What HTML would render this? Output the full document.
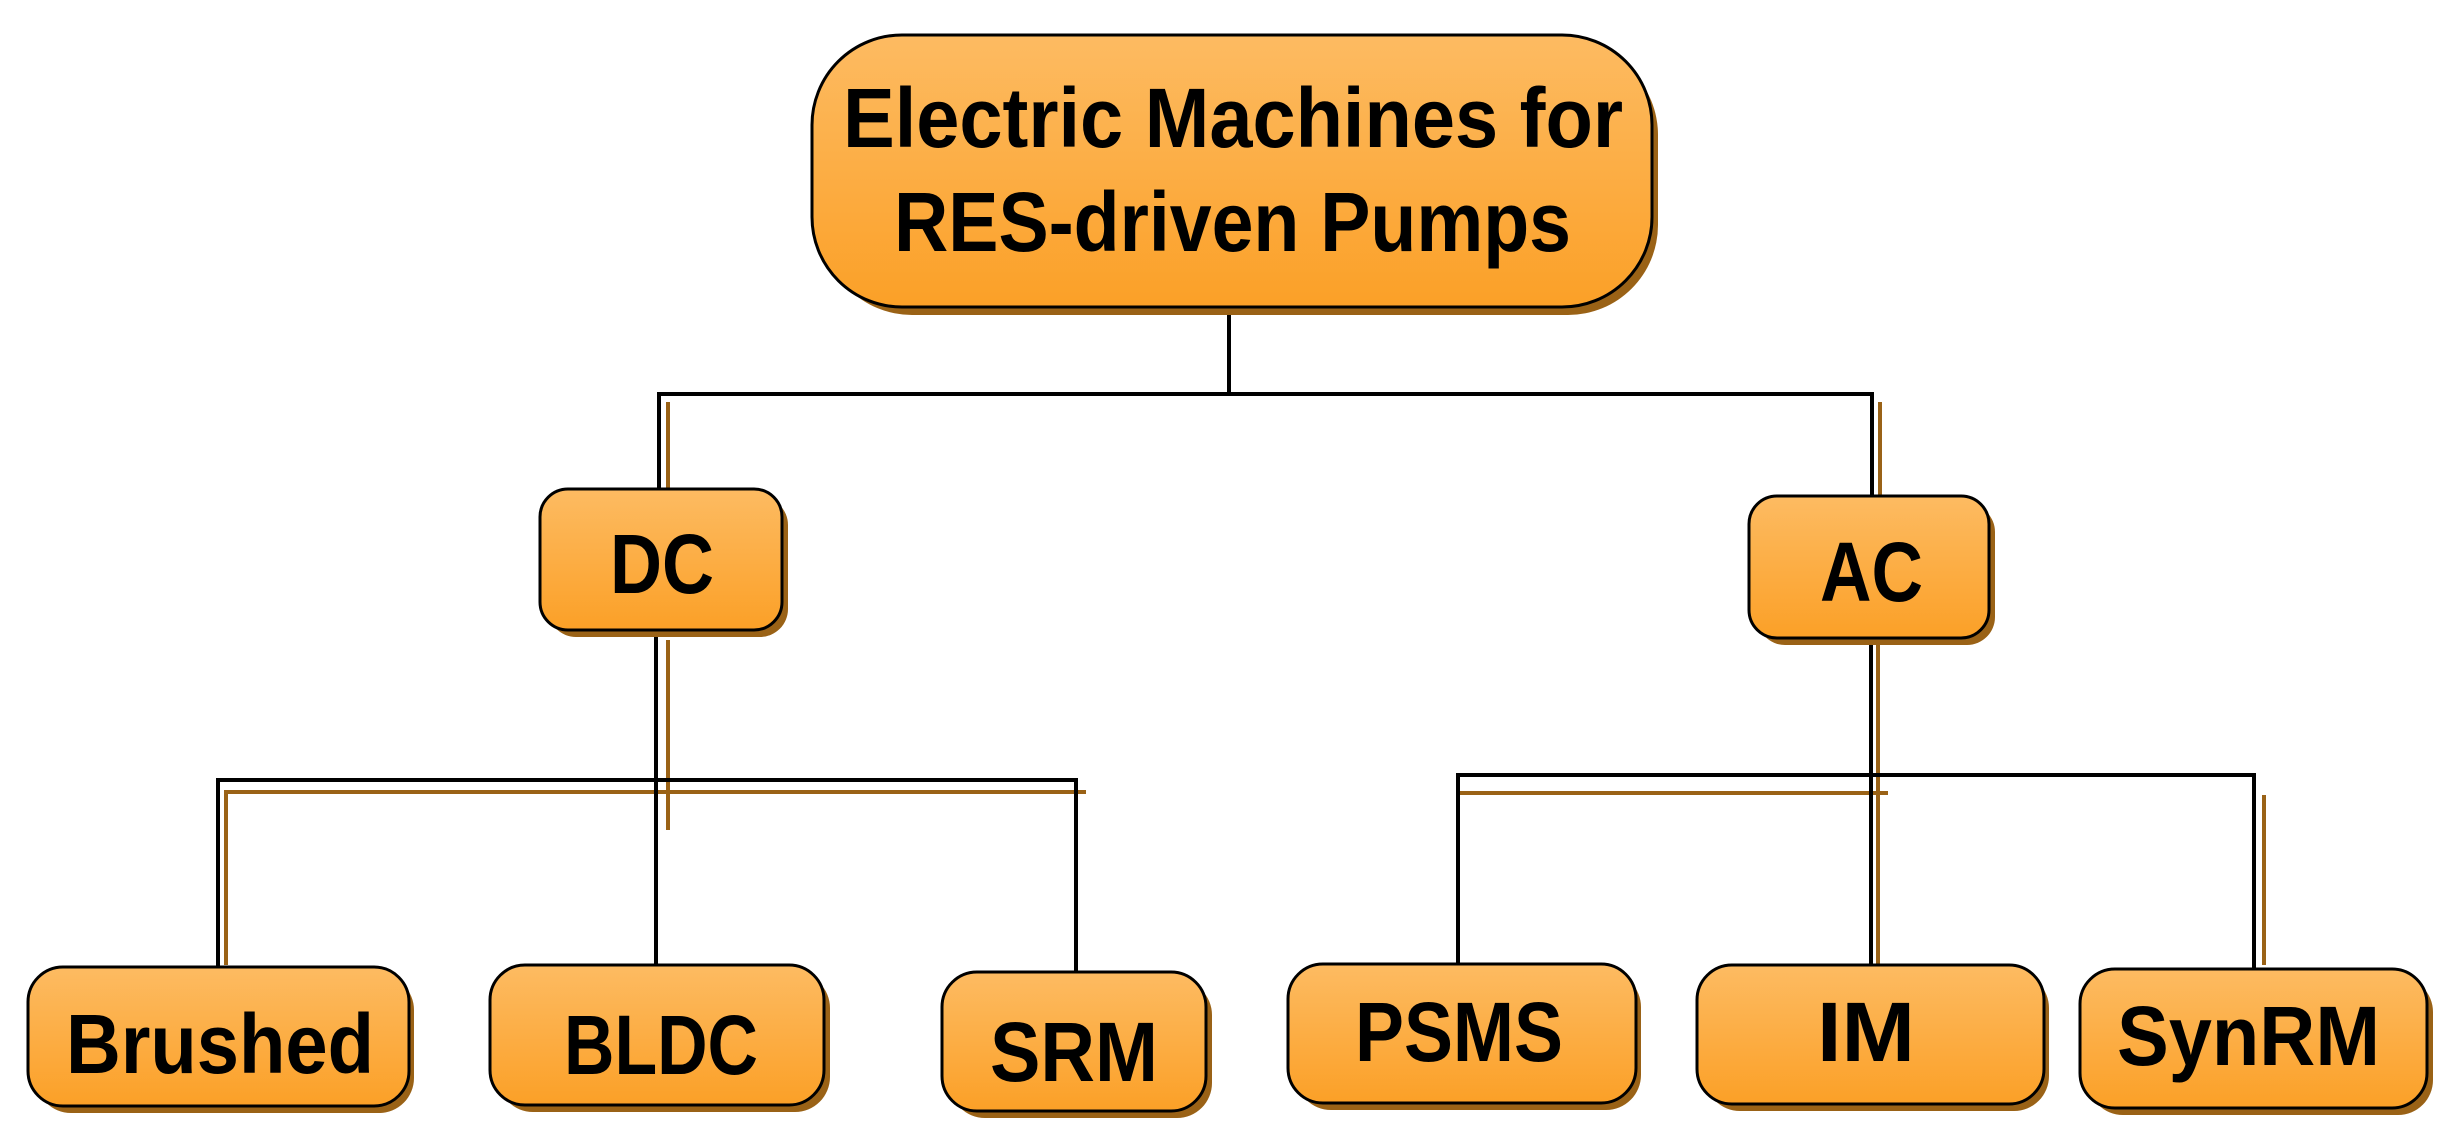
<!DOCTYPE html>
<html><head><meta charset="utf-8"><style>
html,body{margin:0;padding:0;background:#fff;}
svg{display:block;}
text{font-family:"Liberation Sans",sans-serif;font-weight:bold;fill:#000;}
</style></head><body>
<svg width="2458" height="1137" viewBox="0 0 2458 1137" xmlns="http://www.w3.org/2000/svg">
<defs>
<linearGradient id="g" x1="0" y1="0" x2="0" y2="1">
<stop offset="0" stop-color="#fdbb62"/><stop offset="1" stop-color="#fba027"/>
</linearGradient>
</defs>
<g stroke="#9a6216" stroke-width="4" fill="none">
<path d="M668 402 V498"/>
<path d="M1880 402 V505"/>
<path d="M668 640 V830"/>
<path d="M226 965 V792 H1086"/>
<path d="M1457 793 H1888"/>
<path d="M1878 640 V1058"/>
<path d="M2264 795 V965"/>
</g>
<g stroke="#000" stroke-width="4" fill="none">
<path d="M1229 307 V394 H659 V489"/>
<path d="M1229 394 H1872 V496"/>
<path d="M656 630 V965"/>
<path d="M218 967 V780 H1076 V972"/>
<path d="M1871 638 V1056"/>
<path d="M1458 965 V775 H2254 V969"/>
</g>
<g fill="#9a6216">
<rect x="822" y="45" width="836" height="270" rx="90"/>
<rect x="548" y="497" width="240" height="140" rx="28"/>
<rect x="1757" y="504" width="238" height="141" rx="28"/>
<rect x="36" y="975" width="378" height="138" rx="35"/>
<rect x="498" y="973" width="332" height="139" rx="35"/>
<rect x="950" y="980" width="262" height="138" rx="35"/>
<rect x="1296" y="972" width="345" height="138" rx="35"/>
<rect x="1705" y="973" width="344" height="138" rx="35"/>
<rect x="2088" y="977" width="345" height="138" rx="35"/>
</g>
<g fill="url(#g)" stroke="#000" stroke-width="3">
<rect x="812" y="35" width="840" height="272" rx="90"/>
<rect x="540" y="489" width="242" height="141" rx="28"/>
<rect x="1749" y="496" width="240" height="142" rx="28"/>
<rect x="28" y="967" width="381" height="139" rx="35"/>
<rect x="490" y="965" width="334" height="140" rx="35"/>
<rect x="942" y="972" width="264" height="139" rx="35"/>
<rect x="1288" y="964" width="348" height="139" rx="35"/>
<rect x="1697" y="965" width="347" height="139" rx="35"/>
<rect x="2080" y="969" width="347" height="139" rx="35"/>
</g>
<g font-size="84">
<text x="843" y="147" textLength="780" lengthAdjust="spacingAndGlyphs">Electric Machines for</text>
<text x="894" y="251" textLength="677" lengthAdjust="spacingAndGlyphs">RES-driven Pumps</text>
<text x="610" y="593" textLength="104" lengthAdjust="spacingAndGlyphs">DC</text>
<text x="1820" y="601" textLength="103" lengthAdjust="spacingAndGlyphs">AC</text>
<text x="66" y="1073" textLength="308" lengthAdjust="spacingAndGlyphs">Brushed</text>
<text x="564" y="1074" textLength="194" lengthAdjust="spacingAndGlyphs">BLDC</text>
<text x="990" y="1081" textLength="168" lengthAdjust="spacingAndGlyphs">SRM</text>
<text x="1355" y="1061" textLength="208" lengthAdjust="spacingAndGlyphs">PSMS</text>
<text x="1817" y="1061" textLength="98" lengthAdjust="spacingAndGlyphs">IM</text>
<text x="2117" y="1065" textLength="263" lengthAdjust="spacingAndGlyphs">SynRM</text>
</g>
</svg>
</body></html>
